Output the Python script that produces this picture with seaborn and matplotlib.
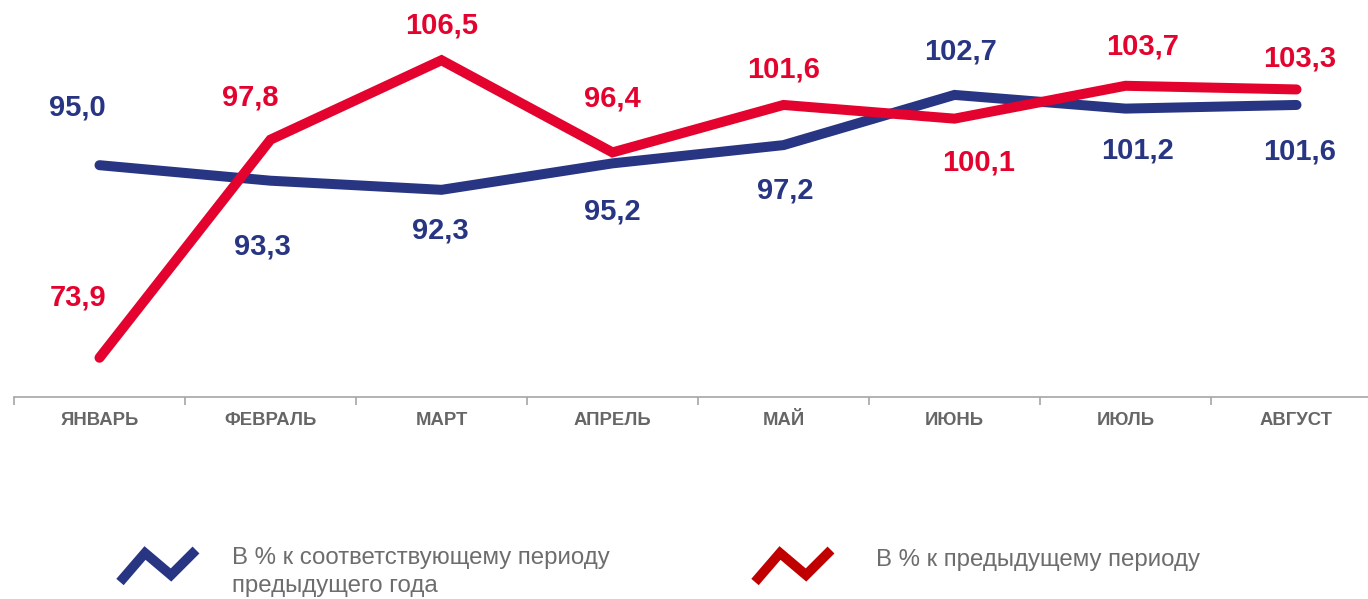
import pandas as pd
import matplotlib.pyplot as plt
import seaborn as sns
from matplotlib.lines import Line2D

# --- данные ---
months = ['ЯНВАРЬ', 'ФЕВРАЛЬ', 'МАРТ', 'АПРЕЛЬ', 'МАЙ', 'ИЮНЬ', 'ИЮЛЬ', 'АВГУСТ']
yoy = [95.0, 93.3, 92.3, 95.2, 97.2, 102.7, 101.2, 101.6]      # к периоду прошлого года
mom = [73.9, 97.8, 106.5, 96.4, 101.6, 100.1, 103.7, 103.3]    # к предыдущему периоду
series_names = ['В % к соответствующему периоду\nпредыдущего года',
                'В % к предыдущему периоду']

# сдвиги подписей (в пикселях)
yoy_off = [(-22, 58), (-8, -66), (-1, -41), (0, -48), (2, -45), (6, 43), (12, -42), (3, -47)]
mom_off = [(-21, 60), (-20, 42), (0, 35), (0, 54), (0, 35), (24, -44), (17, 39), (3, 31)]

blue = '#283583'
red = '#e4032e'

df = pd.DataFrame({
    'month': list(range(len(months))) * 2,
    'value': yoy + mom,
    'series': [series_names[0]] * len(yoy) + [series_names[1]] * len(mom),
})

sns.set_theme(style='white')
plt.rcParams['font.family'] = ['Liberation Sans', 'DejaVu Sans']

fig = plt.figure(figsize=(13.68, 5.99), dpi=100)
ax = fig.add_axes([14 / 1368, 202 / 599, 1368 / 1368, 397 / 599])

sns.lineplot(data=df, x='month', y='value', hue='series', ax=ax,
             palette=[blue, red], linewidth=7.2, legend=False)
for ln in ax.lines:
    ln.set_solid_capstyle('round')
    ln.set_solid_joinstyle('miter')

# подписи значений
for vals, offs, col in [(yoy, yoy_off, blue), (mom, mom_off, red)]:
    for i, (v, (dx, dy)) in enumerate(zip(vals, offs)):
        ax.annotate(f'{v:.1f}'.replace('.', ','), (i, v), xytext=(dx, dy),
                    textcoords='offset pixels', ha='center', va='center',
                    fontsize=21, fontweight='bold', color=col)

ax.set_xlim(-0.5, 7.5)
ax.set_ylim(69.6, 113.1)
ax.set_xlabel('')
ax.set_ylabel('')
ax.set_yticks([])
ax.set_xticks(range(len(months)))
ax.set_xticklabels(months, fontsize=13.3, fontweight='bold', color='#666666')
ax.set_xticks([i - 0.5 for i in range(len(months) + 1)], minor=True)
ax.tick_params(axis='x', which='major', length=0, pad=11)
ax.tick_params(axis='x', which='minor', length=6, width=1.2, color='#a6a6a6',
               direction='out', bottom=True)
for s in ['top', 'right', 'left']:
    ax.spines[s].set_visible(False)
ax.spines['bottom'].set_color('#a6a6a6')
ax.spines['bottom'].set_linewidth(1.2)
ax.grid(False)

# легенда
def icon(x0, col):
    xs = [x0, x0 + 25, x0 + 51, x0 + 76]
    ys = [582, 553, 575, 550]
    fig.add_artist(Line2D([x / 1368 for x in xs], [1 - y / 599 for y in ys],
                          color=col, linewidth=7, solid_joinstyle='miter',
                          solid_capstyle='butt'))

icon(120, blue)
icon(755, '#c00000')
fig.text(232 / 1368, 1 - 572 / 599, series_names[0], fontsize=17.3,
         color='#6d6d6d', ha='left', va='center', linespacing=1.35)
fig.text(876 / 1368, 1 - 560 / 599, series_names[1], fontsize=17.3,
         color='#6d6d6d', ha='left', va='center')

fig.savefig('out.png', dpi=100, facecolor='white')
